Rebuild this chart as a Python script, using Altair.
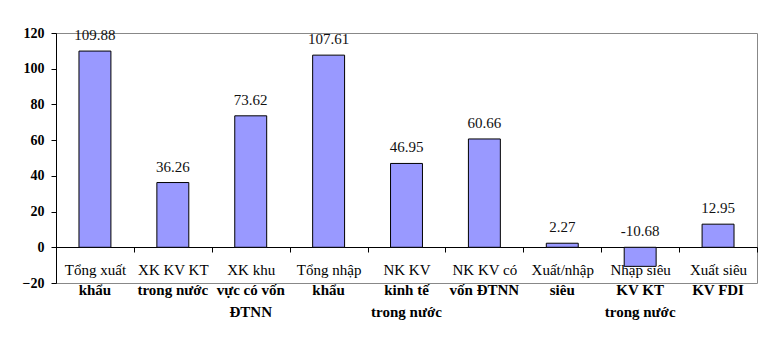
import altair as alt
import pandas as pd

categories = [
    "Tổng xuất|khẩu",
    "XK KV KT|trong nước",
    "XK khu|vực có vốn|ĐTNN",
    "Tổng nhập|khẩu",
    "NK KV|kinh tế|trong nước",
    "NK KV có|vốn ĐTNN",
    "Xuất/nhập|siêu",
    "Nhập siêu|KV KT|trong nước",
    "Xuất siêu|KV FDI",
]
values = [109.88, 36.26, 73.62, 107.61, 46.95, 60.66, 2.27, -10.68, 12.95]
y_ticks = [-20, 0, 20, 40, 60, 80, 100, 120]

df = pd.DataFrame({"cat": categories, "v": values})
df["txt"] = [f"{v:.2f}" for v in values]

FONT = "Liberation Serif, Times New Roman, serif"

x_scale = alt.Scale(domain=categories, paddingInner=0, paddingOuter=0)
y_scale = alt.Scale(domain=[-20, 120], nice=False, zero=False)
y_axis = alt.Axis(values=y_ticks, labelFont=FONT, labelFontSize=14,
                  labelFontWeight="bold", labelColor="#000000",
                  tickSize=5, tickColor="#000000", domainColor="#000000",
                  labelPadding=7, grid=False)

base = alt.Chart(df)

bars = base.mark_bar(color="#9999FF", stroke="#000000", strokeWidth=1,
                     width=alt.RelativeBandSize(0.41)).encode(
    x=alt.X("cat:N", scale=x_scale, sort=None, title=None,
            axis=alt.Axis(orient="bottom", offset=-36, labelAngle=0,
                          labelExpr="split(datum.label, '|')[0]",
                          labelFont=FONT, labelFontSize=15, labelColor="#000000",
                          labelPadding=10, labelBaseline="top",
                          tickBand="extent", tickSize=5, tickColor="#000000",
                          domainColor="#000000", grid=False)),
    y=alt.Y("v:Q", scale=y_scale, title=None, axis=y_axis),
)

labels = base.transform_calculate(
    ly="max(datum.v, 0)"
).mark_text(font=FONT, fontSize=15, color="#111111", dy=-16, baseline="middle").encode(
    x=alt.X("cat:N", scale=x_scale, sort=None, title=None,
            axis=alt.Axis(orient="bottom", offset=-36, labelAngle=0,
                          labelExpr="slice(split(datum.label, '|'), 1)",
                          labelFont=FONT, labelFontSize=15, labelFontWeight="bold",
                          labelColor="#000000", labelLineHeight=22,
                          labelPadding=35, labelBaseline="top",
                          ticks=False, domain=False, grid=False)),
    y=alt.Y("ly:Q", scale=y_scale, title=None, axis=y_axis),
    text="txt:N",
)

chart = alt.layer(bars, labels).resolve_axis(x="independent").properties(
    width=701, height=250,
    background="#ffffff",
    autosize=alt.AutoSizeParams(type="none"),
    padding={"left": 56, "top": 33, "right": 20, "bottom": 74},
).configure_view(stroke="#888888", strokeWidth=1)

chart.save("out.html", embed_options={"renderer": "svg", "actions": False})
